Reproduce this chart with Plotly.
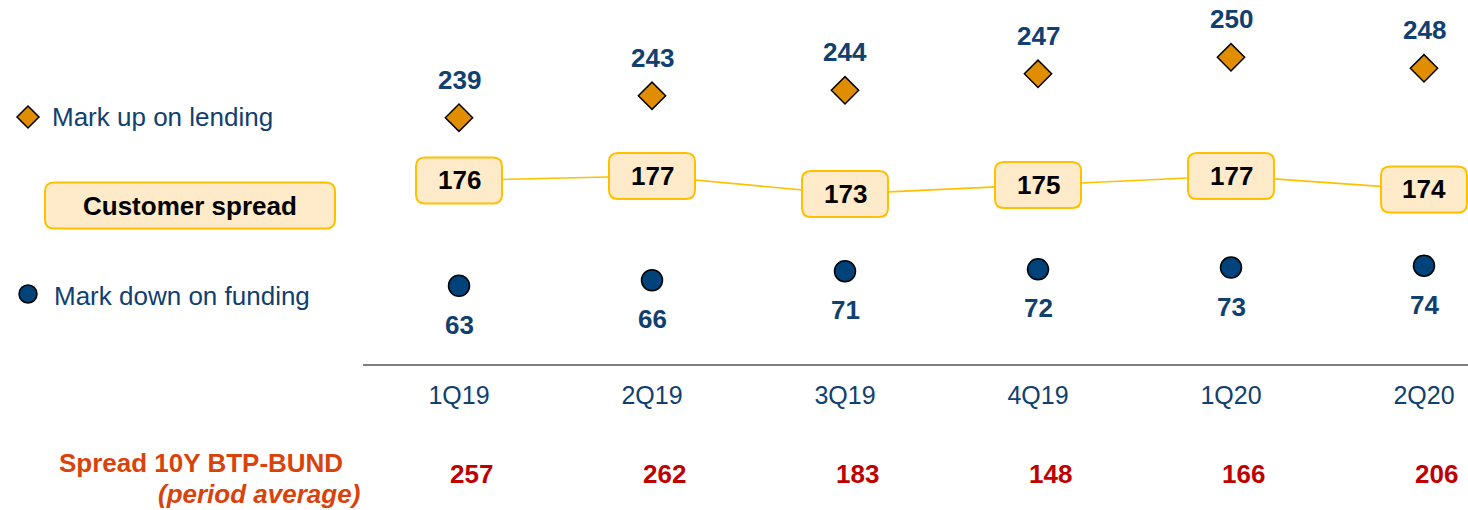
import plotly.graph_objects as go

# quarters and series (bps)
QUARTERS = ["1Q19", "2Q19", "3Q19", "4Q19", "1Q20", "2Q20"]
MARK_UP = [239, 243, 244, 247, 250, 248]
CUSTOMER_SPREAD = [176, 177, 173, 175, 177, 174]
MARK_DOWN = [63, 66, 71, 72, 73, 74]
BTP_BUND = [257, 262, 183, 148, 166, 206]

NAVY = "#10406F"
ORANGE = "#E08E00"
DOT = "#00427A"
GOLD = "#FFC000"
BOX_FILL = "#FFEBC9"
RED = "#C00000"
RED_LABEL = "#D9430B"
FONT = "Liberation Sans, Arial, sans-serif"

W, H = 1468, 510
X_DOM0 = 362.5 / W
Y_DOM0 = (H - 364) / H


def rounded_rect(w, h, r):
    a, b = w / 2, h / 2
    return (f"M {-a + r},{-b} L {a - r},{-b} Q {a},{-b} {a},{-b + r} "
            f"L {a},{b - r} Q {a},{b} {a - r},{b} L {-a + r},{b} "
            f"Q {-a},{b} {-a},{b - r} L {-a},{-b + r} Q {-a},{-b} {-a + r},{-b} Z")


def py(px):
    # pixel row from the top -> paper fraction
    return (H - px) / H


xs = list(range(len(QUARTERS)))
fig = go.Figure()

fig.add_trace(go.Scatter(
    x=xs, y=MARK_UP, mode="markers", yaxis="y",
    marker=dict(symbol="diamond", size=21, color=ORANGE,
                line=dict(color="black", width=1.5)),
    cliponaxis=False, showlegend=False, hoverinfo="skip"))
fig.add_trace(go.Scatter(
    x=xs, y=CUSTOMER_SPREAD, mode="lines", yaxis="y2",
    line=dict(color=GOLD, width=1.6),
    cliponaxis=False, showlegend=False, hoverinfo="skip"))
fig.add_trace(go.Scatter(
    x=xs, y=MARK_DOWN, mode="markers", yaxis="y3",
    marker=dict(symbol="circle", size=21, color=DOT,
                line=dict(color="black", width=1.5)),
    cliponaxis=False, showlegend=False, hoverinfo="skip"))

shapes = []
ann = []
bold_num = dict(family=FONT, size=26, color=NAVY)

for x, up, cs, dn, bb in zip(xs, MARK_UP, CUSTOMER_SPREAD, MARK_DOWN, BTP_BUND):
    ann.append(dict(x=x, y=up, xref="x", yref="y", yshift=38, showarrow=False,
                    text=f"<b>{up}</b>", font=bold_num))
    ann.append(dict(x=x, y=dn, xref="x", yref="y3", yshift=-39, showarrow=False,
                    text=f"<b>{dn}</b>", font=bold_num))
    shapes.append(dict(type="path", xref="x", yref="y2", xsizemode="pixel",
                       ysizemode="pixel", xanchor=x, yanchor=cs,
                       path=rounded_rect(86, 46, 9), fillcolor=BOX_FILL,
                       line=dict(color=GOLD, width=2), layer="above"))
    ann.append(dict(x=x, y=cs, xref="x", yref="y2", showarrow=False,
                    text=f"<b>{cs}</b>",
                    font=dict(family=FONT, size=26, color="black")))
    ann.append(dict(x=x, y=py(474), xref="x", yref="paper", xshift=12,
                    yanchor="middle", showarrow=False, text=f"<b>{bb}</b>",
                    font=dict(family=FONT, size=26, color=RED)))

# left-hand key
shapes.append(dict(type="path", xref="paper", yref="paper", xsizemode="pixel",
                   ysizemode="pixel", xanchor=28 / W, yanchor=py(117),
                   path="M 0,11 L 11,0 L 0,-11 L -11,0 Z", fillcolor=ORANGE,
                   line=dict(color="black", width=1.5)))
shapes.append(dict(type="circle", xref="paper", yref="paper", xsizemode="pixel",
                   ysizemode="pixel", xanchor=28 / W, yanchor=py(294),
                   x0=-9, x1=9, y0=-9, y1=9, fillcolor=DOT,
                   line=dict(color="black", width=1.5)))
shapes.append(dict(type="path", xref="paper", yref="paper", xsizemode="pixel",
                   ysizemode="pixel", xanchor=190 / W, yanchor=py(205.5),
                   path=rounded_rect(290, 46, 9), fillcolor=BOX_FILL,
                   line=dict(color=GOLD, width=2)))

key_font = dict(family=FONT, size=26, color=NAVY)
ann += [
    dict(x=50 / W, y=py(117), xref="paper", yref="paper", xanchor="left",
         yanchor="middle", showarrow=False, text="Mark up on lending",
         font=key_font),
    dict(x=52 / W, y=py(296), xref="paper", yref="paper", xanchor="left",
         yanchor="middle", showarrow=False, text="Mark down on funding",
         font=key_font),
    dict(x=190 / W, y=py(205.5), xref="paper", yref="paper", xanchor="center",
         yanchor="middle", showarrow=False, text="<b>Customer spread</b>",
         font=dict(family=FONT, size=26, color="black")),
    dict(x=345 / W, y=py(463), xref="paper", yref="paper", xanchor="right",
         yanchor="middle", showarrow=False, text="<b>Spread 10Y BTP-BUND</b>",
         font=dict(family=FONT, size=26, color=RED_LABEL)),
    dict(x=362 / W, y=py(494), xref="paper", yref="paper", xanchor="right",
         yanchor="middle", showarrow=False,
         text="<b><i>(period average)</i></b>",
         font=dict(family=FONT, size=26, color=RED_LABEL)),
]

hidden = dict(visible=False, overlaying="y", domain=[Y_DOM0, 1])
fig.update_layout(
    width=W, height=H,
    margin=dict(l=0, r=0, t=0, b=0),
    paper_bgcolor="white", plot_bgcolor="white",
    font=dict(family=FONT),
    xaxis=dict(domain=[X_DOM0, 1], range=[-0.5, 5.228],
               tickmode="array", tickvals=xs, ticktext=QUARTERS,
               showgrid=False, zeroline=False,
               showline=True, linecolor="#808080", linewidth=2,
               ticks="", ticklabelstandoff=8,
               tickfont=dict(family=FONT, size=25, color=NAVY)),
    yaxis=dict(domain=[Y_DOM0, 1], range=[194.14, 260.44], visible=False),
    yaxis2=dict(range=[135.2, 216.1], **hidden),
    yaxis3=dict(range=[20, 220], **hidden),
    shapes=shapes, annotations=ann,
    showlegend=False,
)

fig.write_html("out.html", config={"displayModeBar": False},
               post_script="document.body.style.margin='0';"
                           "document.body.style.overflow='hidden';")
